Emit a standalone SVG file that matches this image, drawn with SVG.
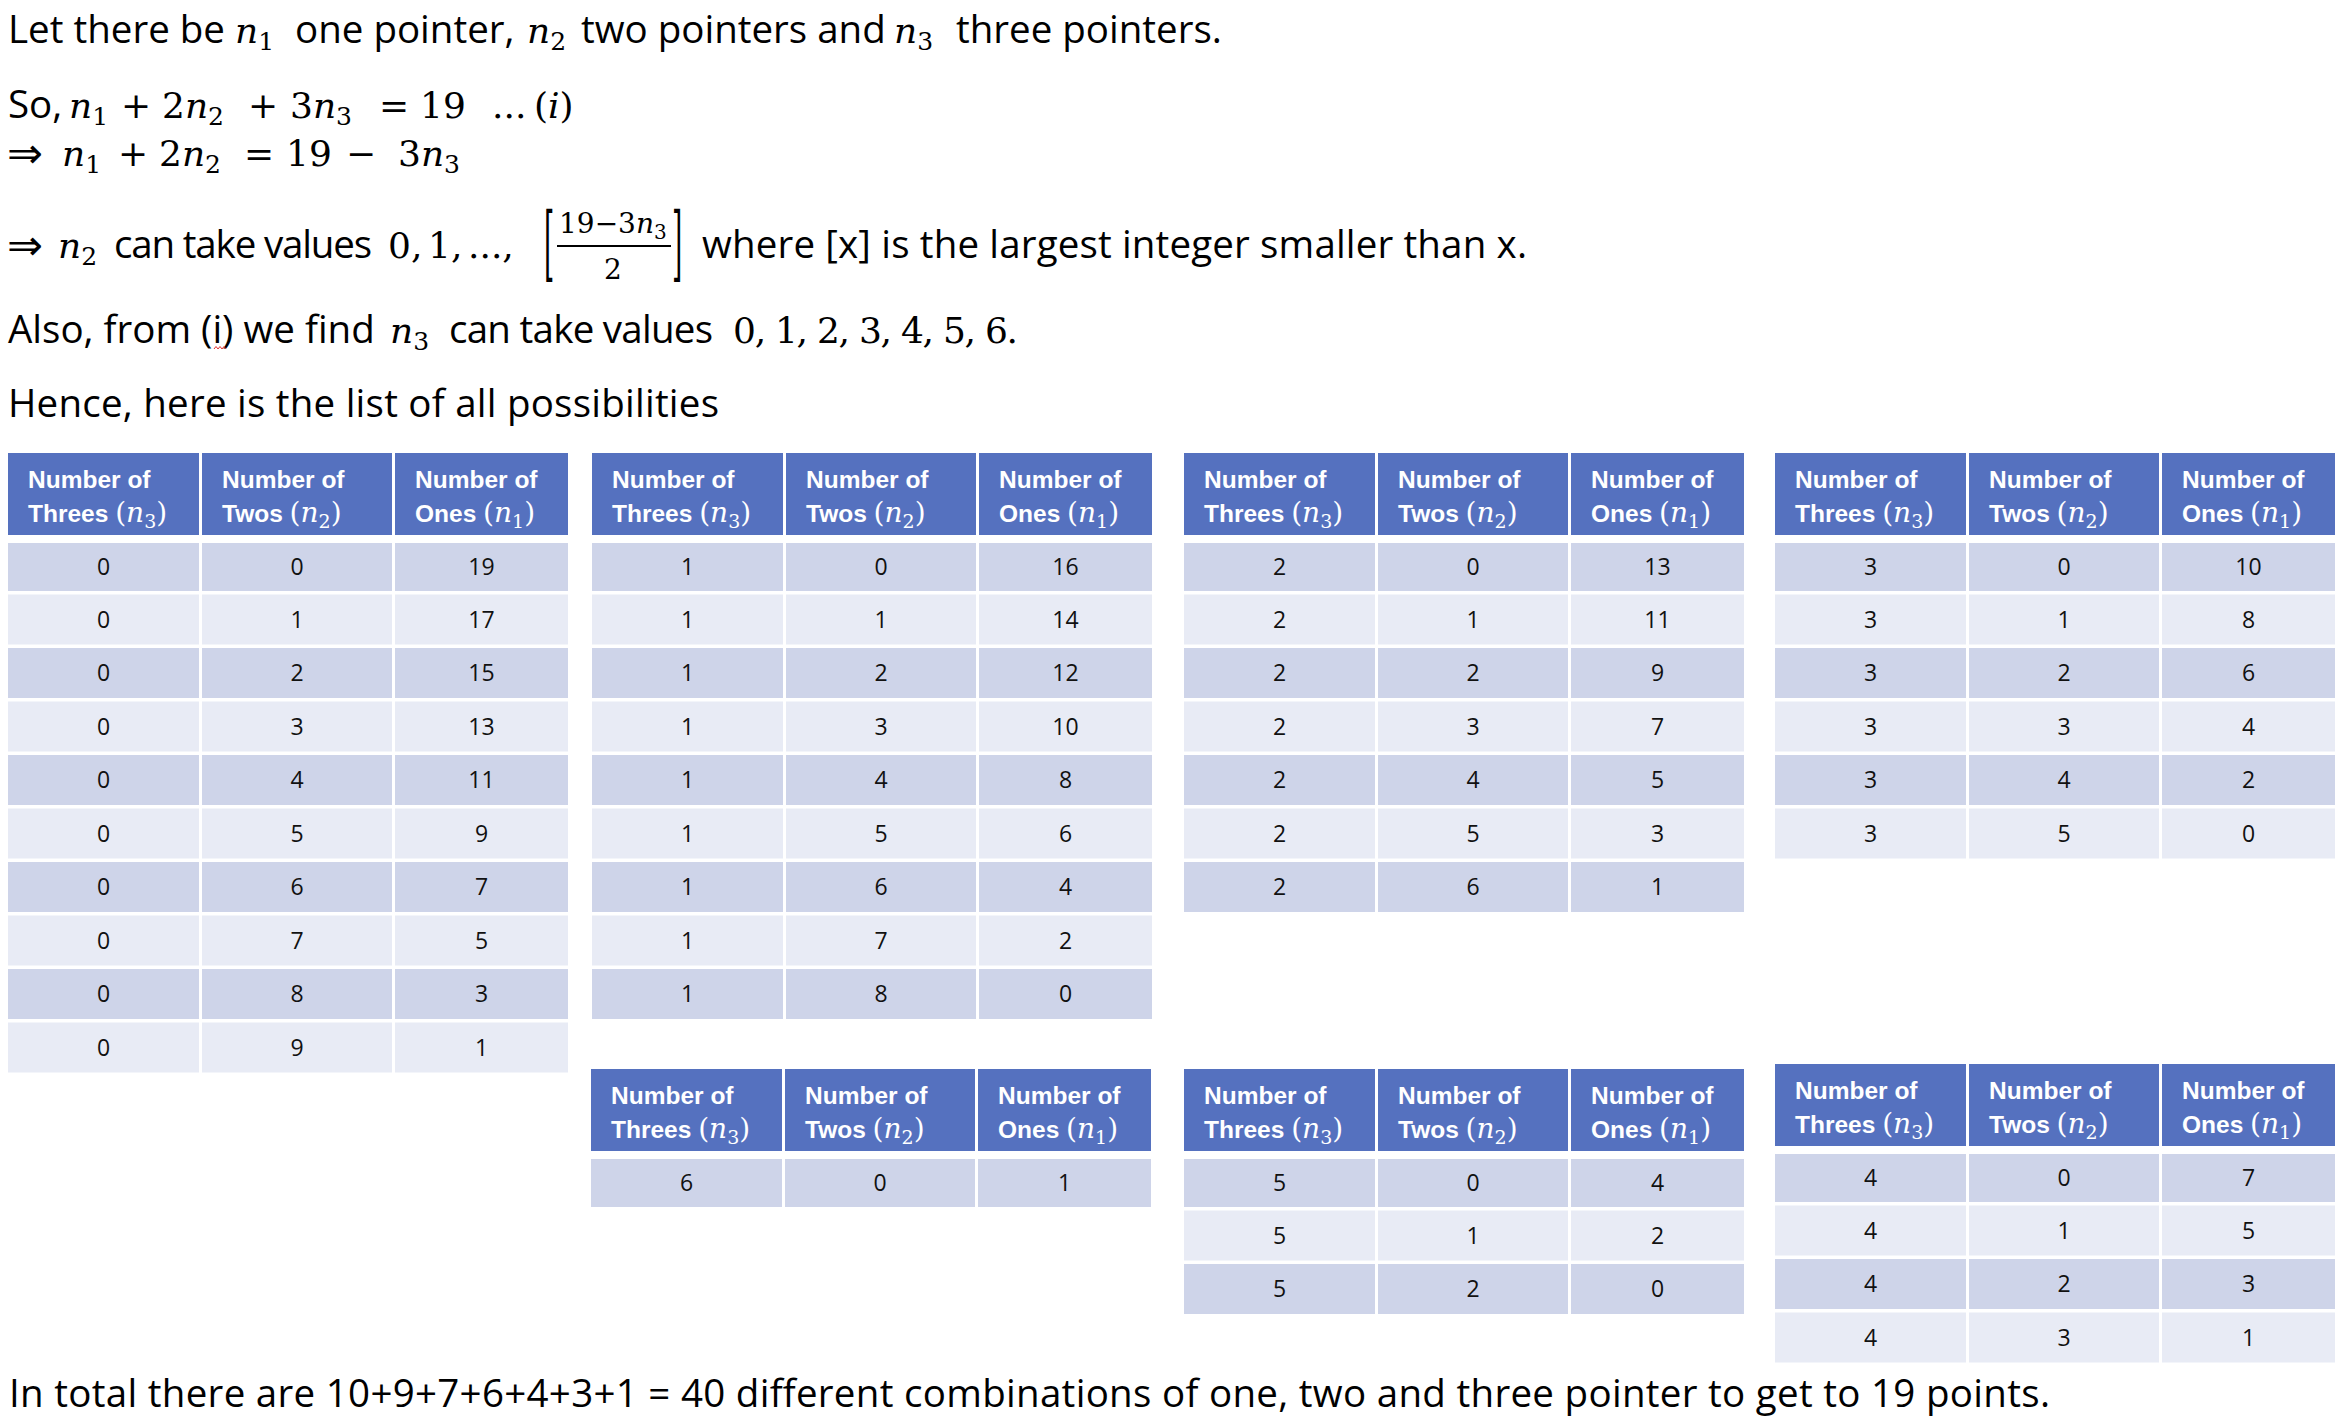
<svg xmlns="http://www.w3.org/2000/svg" xmlns:xlink="http://www.w3.org/1999/xlink" width="2352" height="1427" viewBox="0 0 2352 1427">
<style>
.t{font-family:"Open Sans","Liberation Sans",sans-serif;font-size:38.5px;fill:#000}
.ar{font-family:"DejaVu Sans",sans-serif;font-size:43px;fill:#000}
.m{font-family:"DejaVu Serif","Liberation Serif",serif;font-size:36px;fill:#000}
.s{font-size:25px}
.mf{font-family:"DejaVu Serif","Liberation Serif",serif;font-size:28px;fill:#000}
.sf{font-size:20px}
.br{font-family:"DejaVu Serif","Liberation Serif",serif;font-size:48px;fill:#000}
.i{font-style:italic}
.h{font-family:"Liberation Sans",Arial,sans-serif;font-weight:bold;font-size:24.5px;fill:#fff}
.hm{font-family:"DejaVu Serif","Liberation Serif",serif;font-weight:normal;font-size:28px}
.hs{font-size:19px}
.c{font-family:"Open Sans","Liberation Sans",sans-serif;font-size:23px;fill:#111;text-anchor:middle}
.hd{fill:#5571BF}
.dk{fill:#CED4E9}
.lt{fill:#E8EBF5}
</style>
<defs>
<g id="hbg"><rect class="hd" x="0" y="0" width="191" height="82"/><rect class="hd" x="194" y="0" width="190" height="82"/><rect class="hd" x="387" y="0" width="173" height="82"/></g>
<g id="rd0"><rect class="dk" x="0" y="0" width="191" height="48"/><rect class="dk" x="194" y="0" width="190" height="48"/><rect class="dk" x="387" y="0" width="173" height="48"/></g>
<g id="rd"><rect class="dk" x="0" y="0" width="191" height="50"/><rect class="dk" x="194" y="0" width="190" height="50"/><rect class="dk" x="387" y="0" width="173" height="50"/></g>
<g id="rl"><rect class="lt" x="0" y="0" width="191" height="50"/><rect class="lt" x="194" y="0" width="190" height="50"/><rect class="lt" x="387" y="0" width="173" height="50"/></g>
</defs>
<rect x="0" y="0" width="2352" height="1427" fill="#fff"/>

<g id="intro">
<text class="t" x="8" y="43">Let there be</text>
<text class="m" y="43"><tspan x="235" class="i">n</tspan><tspan class="s" y="50">1</tspan></text>
<text class="t" x="295" y="43">one pointer,</text>
<text class="m" y="43"><tspan x="527" class="i">n</tspan><tspan class="s" y="50">2</tspan></text>
<text class="t" x="581" y="43">two pointers and</text>
<text class="m" y="43"><tspan x="894" class="i">n</tspan><tspan class="s" y="50">3</tspan></text>
<text class="t" x="956" y="43">three pointers.</text>

<text class="t" x="8" y="118">So,</text>
<text class="m" y="118"><tspan x="69" class="i">n</tspan><tspan class="s" y="125">1</tspan><tspan x="121" y="118">+</tspan><tspan x="162">2</tspan><tspan class="i">n</tspan><tspan class="s" y="125">2</tspan><tspan x="248" y="118">+</tspan><tspan x="290">3</tspan><tspan class="i">n</tspan><tspan class="s" y="125">3</tspan><tspan x="379" y="118">=</tspan><tspan x="420">19</tspan><tspan x="492">...</tspan><tspan x="534">(</tspan><tspan class="i">i</tspan><tspan>)</tspan></text>

<text class="ar" x="7" y="168">⇒</text>
<text class="m" y="166"><tspan x="62" class="i">n</tspan><tspan class="s" y="173">1</tspan><tspan x="118" y="166">+</tspan><tspan x="159">2</tspan><tspan class="i">n</tspan><tspan class="s" y="173">2</tspan><tspan x="244" y="166">=</tspan><tspan x="286">19</tspan><tspan x="346">−</tspan><tspan x="398">3</tspan><tspan class="i">n</tspan><tspan class="s" y="173">3</tspan></text>

<text class="ar" x="7" y="260">⇒</text>
<text class="m" y="258"><tspan x="58" class="i">n</tspan><tspan class="s" y="265">2</tspan></text>
<text class="t" x="114" y="258" textLength="258" lengthAdjust="spacing">can take values</text>
<text class="m" y="258"><tspan x="388">0,</tspan><tspan x="428">1,</tspan><tspan x="468">...,</tspan></text>
<text class="br" transform="translate(544,271) scale(0.55,1.7)">[</text>
<text class="mf" y="233"><tspan x="559">19−3</tspan><tspan class="i">n</tspan><tspan class="sf" y="239">3</tspan></text>
<line x1="557" y1="246" x2="671" y2="246" stroke="#000" stroke-width="2"/>
<text class="mf" x="613" y="279" text-anchor="middle">2</text>
<text class="br" transform="translate(672,271) scale(0.55,1.7)">]</text>
<text class="t" x="702" y="258" textLength="825" lengthAdjust="spacing">where [x] is the largest integer smaller than x.</text>

<text class="t" x="8" y="343">Also, from (i) we find</text>
<polyline points="214,349 216,346.5 218,349 220,346.5 222,349 224,346.5 226,349" fill="none" stroke="#e03030" stroke-width="1"/>
<text class="m" y="343"><tspan x="390" class="i">n</tspan><tspan class="s" y="350">3</tspan></text>
<text class="t" x="449" y="343" textLength="264" lengthAdjust="spacing">can take values</text>
<text class="m" x="733" y="343" textLength="285" lengthAdjust="spacing">0, 1, 2, 3, 4, 5, 6.</text>

<text class="t" x="8" y="417" textLength="711" lengthAdjust="spacing">Hence, here is the list of all possibilities</text>
</g>

<g id="table-n3-0" transform="translate(8,453)">
<use xlink:href="#hbg"/>
<text class="h" x="20" y="35">Number of</text>
<text class="h" x="20" y="69">Threes <tspan class="hm">(<tspan class="i">n</tspan><tspan class="hs" y="75">3</tspan><tspan y="69">)</tspan></tspan></text>
<text class="h" x="214" y="35">Number of</text>
<text class="h" x="214" y="69">Twos <tspan class="hm">(<tspan class="i">n</tspan><tspan class="hs" y="75">2</tspan><tspan y="69">)</tspan></tspan></text>
<text class="h" x="407" y="35">Number of</text>
<text class="h" x="407" y="69">Ones <tspan class="hm">(<tspan class="i">n</tspan><tspan class="hs" y="75">1</tspan><tspan y="69">)</tspan></tspan></text>
<use xlink:href="#rd0" y="90"/><use xlink:href="#rl" y="141.5"/><use xlink:href="#rd" y="195"/><use xlink:href="#rl" y="248.5"/><use xlink:href="#rd" y="302"/><use xlink:href="#rl" y="355.5"/><use xlink:href="#rd" y="409"/><use xlink:href="#rl" y="462.5"/><use xlink:href="#rd" y="516"/><use xlink:href="#rl" y="569.5"/>
<text class="c" x="95.5" y="122">0</text><text class="c" x="289" y="122">0</text><text class="c" x="473.5" y="122">19</text>
<text class="c" x="95.5" y="174.5">0</text><text class="c" x="289" y="174.5">1</text><text class="c" x="473.5" y="174.5">17</text>
<text class="c" x="95.5" y="228">0</text><text class="c" x="289" y="228">2</text><text class="c" x="473.5" y="228">15</text>
<text class="c" x="95.5" y="281.5">0</text><text class="c" x="289" y="281.5">3</text><text class="c" x="473.5" y="281.5">13</text>
<text class="c" x="95.5" y="335">0</text><text class="c" x="289" y="335">4</text><text class="c" x="473.5" y="335">11</text>
<text class="c" x="95.5" y="388.5">0</text><text class="c" x="289" y="388.5">5</text><text class="c" x="473.5" y="388.5">9</text>
<text class="c" x="95.5" y="442">0</text><text class="c" x="289" y="442">6</text><text class="c" x="473.5" y="442">7</text>
<text class="c" x="95.5" y="495.5">0</text><text class="c" x="289" y="495.5">7</text><text class="c" x="473.5" y="495.5">5</text>
<text class="c" x="95.5" y="549">0</text><text class="c" x="289" y="549">8</text><text class="c" x="473.5" y="549">3</text>
<text class="c" x="95.5" y="602.5">0</text><text class="c" x="289" y="602.5">9</text><text class="c" x="473.5" y="602.5">1</text>
</g>

<g id="table-n3-1" transform="translate(592,453)">
<use xlink:href="#hbg"/>
<text class="h" x="20" y="35">Number of</text>
<text class="h" x="20" y="69">Threes <tspan class="hm">(<tspan class="i">n</tspan><tspan class="hs" y="75">3</tspan><tspan y="69">)</tspan></tspan></text>
<text class="h" x="214" y="35">Number of</text>
<text class="h" x="214" y="69">Twos <tspan class="hm">(<tspan class="i">n</tspan><tspan class="hs" y="75">2</tspan><tspan y="69">)</tspan></tspan></text>
<text class="h" x="407" y="35">Number of</text>
<text class="h" x="407" y="69">Ones <tspan class="hm">(<tspan class="i">n</tspan><tspan class="hs" y="75">1</tspan><tspan y="69">)</tspan></tspan></text>
<use xlink:href="#rd0" y="90"/><use xlink:href="#rl" y="141.5"/><use xlink:href="#rd" y="195"/><use xlink:href="#rl" y="248.5"/><use xlink:href="#rd" y="302"/><use xlink:href="#rl" y="355.5"/><use xlink:href="#rd" y="409"/><use xlink:href="#rl" y="462.5"/><use xlink:href="#rd" y="516"/>
<text class="c" x="95.5" y="122">1</text><text class="c" x="289" y="122">0</text><text class="c" x="473.5" y="122">16</text>
<text class="c" x="95.5" y="174.5">1</text><text class="c" x="289" y="174.5">1</text><text class="c" x="473.5" y="174.5">14</text>
<text class="c" x="95.5" y="228">1</text><text class="c" x="289" y="228">2</text><text class="c" x="473.5" y="228">12</text>
<text class="c" x="95.5" y="281.5">1</text><text class="c" x="289" y="281.5">3</text><text class="c" x="473.5" y="281.5">10</text>
<text class="c" x="95.5" y="335">1</text><text class="c" x="289" y="335">4</text><text class="c" x="473.5" y="335">8</text>
<text class="c" x="95.5" y="388.5">1</text><text class="c" x="289" y="388.5">5</text><text class="c" x="473.5" y="388.5">6</text>
<text class="c" x="95.5" y="442">1</text><text class="c" x="289" y="442">6</text><text class="c" x="473.5" y="442">4</text>
<text class="c" x="95.5" y="495.5">1</text><text class="c" x="289" y="495.5">7</text><text class="c" x="473.5" y="495.5">2</text>
<text class="c" x="95.5" y="549">1</text><text class="c" x="289" y="549">8</text><text class="c" x="473.5" y="549">0</text>
</g>

<g id="table-n3-2" transform="translate(1184,453)">
<use xlink:href="#hbg"/>
<text class="h" x="20" y="35">Number of</text>
<text class="h" x="20" y="69">Threes <tspan class="hm">(<tspan class="i">n</tspan><tspan class="hs" y="75">3</tspan><tspan y="69">)</tspan></tspan></text>
<text class="h" x="214" y="35">Number of</text>
<text class="h" x="214" y="69">Twos <tspan class="hm">(<tspan class="i">n</tspan><tspan class="hs" y="75">2</tspan><tspan y="69">)</tspan></tspan></text>
<text class="h" x="407" y="35">Number of</text>
<text class="h" x="407" y="69">Ones <tspan class="hm">(<tspan class="i">n</tspan><tspan class="hs" y="75">1</tspan><tspan y="69">)</tspan></tspan></text>
<use xlink:href="#rd0" y="90"/><use xlink:href="#rl" y="141.5"/><use xlink:href="#rd" y="195"/><use xlink:href="#rl" y="248.5"/><use xlink:href="#rd" y="302"/><use xlink:href="#rl" y="355.5"/><use xlink:href="#rd" y="409"/>
<text class="c" x="95.5" y="122">2</text><text class="c" x="289" y="122">0</text><text class="c" x="473.5" y="122">13</text>
<text class="c" x="95.5" y="174.5">2</text><text class="c" x="289" y="174.5">1</text><text class="c" x="473.5" y="174.5">11</text>
<text class="c" x="95.5" y="228">2</text><text class="c" x="289" y="228">2</text><text class="c" x="473.5" y="228">9</text>
<text class="c" x="95.5" y="281.5">2</text><text class="c" x="289" y="281.5">3</text><text class="c" x="473.5" y="281.5">7</text>
<text class="c" x="95.5" y="335">2</text><text class="c" x="289" y="335">4</text><text class="c" x="473.5" y="335">5</text>
<text class="c" x="95.5" y="388.5">2</text><text class="c" x="289" y="388.5">5</text><text class="c" x="473.5" y="388.5">3</text>
<text class="c" x="95.5" y="442">2</text><text class="c" x="289" y="442">6</text><text class="c" x="473.5" y="442">1</text>
</g>

<g id="table-n3-3" transform="translate(1775,453)">
<use xlink:href="#hbg"/>
<text class="h" x="20" y="35">Number of</text>
<text class="h" x="20" y="69">Threes <tspan class="hm">(<tspan class="i">n</tspan><tspan class="hs" y="75">3</tspan><tspan y="69">)</tspan></tspan></text>
<text class="h" x="214" y="35">Number of</text>
<text class="h" x="214" y="69">Twos <tspan class="hm">(<tspan class="i">n</tspan><tspan class="hs" y="75">2</tspan><tspan y="69">)</tspan></tspan></text>
<text class="h" x="407" y="35">Number of</text>
<text class="h" x="407" y="69">Ones <tspan class="hm">(<tspan class="i">n</tspan><tspan class="hs" y="75">1</tspan><tspan y="69">)</tspan></tspan></text>
<use xlink:href="#rd0" y="90"/><use xlink:href="#rl" y="141.5"/><use xlink:href="#rd" y="195"/><use xlink:href="#rl" y="248.5"/><use xlink:href="#rd" y="302"/><use xlink:href="#rl" y="355.5"/>
<text class="c" x="95.5" y="122">3</text><text class="c" x="289" y="122">0</text><text class="c" x="473.5" y="122">10</text>
<text class="c" x="95.5" y="174.5">3</text><text class="c" x="289" y="174.5">1</text><text class="c" x="473.5" y="174.5">8</text>
<text class="c" x="95.5" y="228">3</text><text class="c" x="289" y="228">2</text><text class="c" x="473.5" y="228">6</text>
<text class="c" x="95.5" y="281.5">3</text><text class="c" x="289" y="281.5">3</text><text class="c" x="473.5" y="281.5">4</text>
<text class="c" x="95.5" y="335">3</text><text class="c" x="289" y="335">4</text><text class="c" x="473.5" y="335">2</text>
<text class="c" x="95.5" y="388.5">3</text><text class="c" x="289" y="388.5">5</text><text class="c" x="473.5" y="388.5">0</text>
</g>

<g id="table-n3-6" transform="translate(591,1069)">
<use xlink:href="#hbg"/>
<text class="h" x="20" y="35">Number of</text>
<text class="h" x="20" y="69">Threes <tspan class="hm">(<tspan class="i">n</tspan><tspan class="hs" y="75">3</tspan><tspan y="69">)</tspan></tspan></text>
<text class="h" x="214" y="35">Number of</text>
<text class="h" x="214" y="69">Twos <tspan class="hm">(<tspan class="i">n</tspan><tspan class="hs" y="75">2</tspan><tspan y="69">)</tspan></tspan></text>
<text class="h" x="407" y="35">Number of</text>
<text class="h" x="407" y="69">Ones <tspan class="hm">(<tspan class="i">n</tspan><tspan class="hs" y="75">1</tspan><tspan y="69">)</tspan></tspan></text>
<use xlink:href="#rd0" y="90"/>
<text class="c" x="95.5" y="122">6</text><text class="c" x="289" y="122">0</text><text class="c" x="473.5" y="122">1</text>
</g>

<g id="table-n3-5" transform="translate(1184,1069)">
<use xlink:href="#hbg"/>
<text class="h" x="20" y="35">Number of</text>
<text class="h" x="20" y="69">Threes <tspan class="hm">(<tspan class="i">n</tspan><tspan class="hs" y="75">3</tspan><tspan y="69">)</tspan></tspan></text>
<text class="h" x="214" y="35">Number of</text>
<text class="h" x="214" y="69">Twos <tspan class="hm">(<tspan class="i">n</tspan><tspan class="hs" y="75">2</tspan><tspan y="69">)</tspan></tspan></text>
<text class="h" x="407" y="35">Number of</text>
<text class="h" x="407" y="69">Ones <tspan class="hm">(<tspan class="i">n</tspan><tspan class="hs" y="75">1</tspan><tspan y="69">)</tspan></tspan></text>
<use xlink:href="#rd0" y="90"/><use xlink:href="#rl" y="141.5"/><use xlink:href="#rd" y="195"/>
<text class="c" x="95.5" y="122">5</text><text class="c" x="289" y="122">0</text><text class="c" x="473.5" y="122">4</text>
<text class="c" x="95.5" y="174.5">5</text><text class="c" x="289" y="174.5">1</text><text class="c" x="473.5" y="174.5">2</text>
<text class="c" x="95.5" y="228">5</text><text class="c" x="289" y="228">2</text><text class="c" x="473.5" y="228">0</text>
</g>

<g id="table-n3-4" transform="translate(1775,1064)">
<use xlink:href="#hbg"/>
<text class="h" x="20" y="35">Number of</text>
<text class="h" x="20" y="69">Threes <tspan class="hm">(<tspan class="i">n</tspan><tspan class="hs" y="75">3</tspan><tspan y="69">)</tspan></tspan></text>
<text class="h" x="214" y="35">Number of</text>
<text class="h" x="214" y="69">Twos <tspan class="hm">(<tspan class="i">n</tspan><tspan class="hs" y="75">2</tspan><tspan y="69">)</tspan></tspan></text>
<text class="h" x="407" y="35">Number of</text>
<text class="h" x="407" y="69">Ones <tspan class="hm">(<tspan class="i">n</tspan><tspan class="hs" y="75">1</tspan><tspan y="69">)</tspan></tspan></text>
<use xlink:href="#rd0" y="90"/><use xlink:href="#rl" y="141.5"/><use xlink:href="#rd" y="195"/><use xlink:href="#rl" y="248.5"/>
<text class="c" x="95.5" y="122">4</text><text class="c" x="289" y="122">0</text><text class="c" x="473.5" y="122">7</text>
<text class="c" x="95.5" y="174.5">4</text><text class="c" x="289" y="174.5">1</text><text class="c" x="473.5" y="174.5">5</text>
<text class="c" x="95.5" y="228">4</text><text class="c" x="289" y="228">2</text><text class="c" x="473.5" y="228">3</text>
<text class="c" x="95.5" y="281.5">4</text><text class="c" x="289" y="281.5">3</text><text class="c" x="473.5" y="281.5">1</text>
</g>

<g id="conclusion">
<text class="t" x="9" y="1407" textLength="2041" lengthAdjust="spacing">In total there are 10+9+7+6+4+3+1 = 40 different combinations of one, two and three pointer to get to 19 points.</text>
</g>
</svg>
